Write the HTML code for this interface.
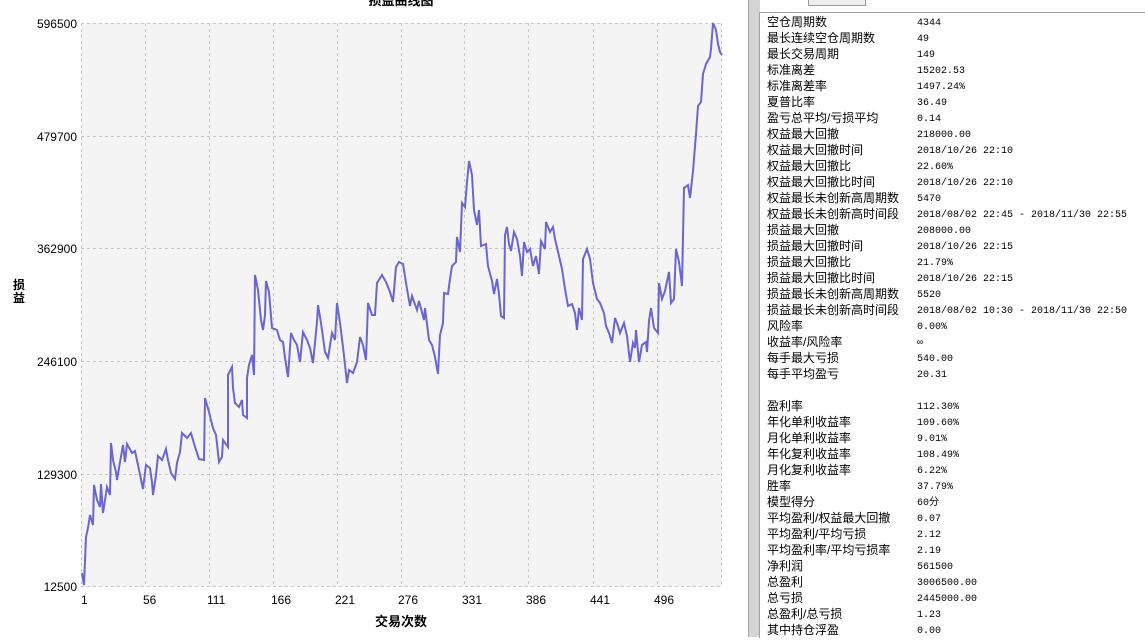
<!DOCTYPE html>
<html><head><meta charset="utf-8"><style>
body{margin:0;width:1145px;height:637px;overflow:hidden;background:#fff;position:relative;font-family:"Liberation Sans","Noto Sans CJK SC",sans-serif;}
.p{position:absolute;left:759px;top:12px;width:386px;height:625px;background:#fff;border-top:1px solid #a0a0a0;border-left:1px solid #a0a0a0;}
.r{position:absolute;font-size:12px;line-height:16px;color:#000;white-space:nowrap;}
</style></head><body>
<div style="position:absolute;left:748px;top:0;width:11px;height:637px;background:#d4d4d4;border-left:1px solid #aaa;"></div>
<div style="position:absolute;left:808px;top:0;width:56px;height:5px;background:#eee;border:1px solid #999;border-top:none;"></div>
<div class="p"></div>
<svg width="748" height="637" style="position:absolute;left:0;top:0" font-family="Liberation Sans, Noto Sans CJK SC, sans-serif">
<rect x="81" y="23" width="641" height="564" fill="#f4f4f4"/>
<g stroke="#c8c8c8" stroke-dasharray="3,3" stroke-width="1">
<line x1="81" y1="23.5" x2="722" y2="23.5"/><line x1="81" y1="136.5" x2="722" y2="136.5"/><line x1="81" y1="248.5" x2="722" y2="248.5"/><line x1="81" y1="361.5" x2="722" y2="361.5"/><line x1="81" y1="474.5" x2="722" y2="474.5"/><line x1="81" y1="586.5" x2="722" y2="586.5"/>
<line x1="81.5" y1="23" x2="81.5" y2="587"/><line x1="145.5" y1="23" x2="145.5" y2="587"/><line x1="209.5" y1="23" x2="209.5" y2="587"/><line x1="273.5" y1="23" x2="273.5" y2="587"/><line x1="337.5" y1="23" x2="337.5" y2="587"/><line x1="401.5" y1="23" x2="401.5" y2="587"/><line x1="464.5" y1="23" x2="464.5" y2="587"/><line x1="528.5" y1="23" x2="528.5" y2="587"/><line x1="593.5" y1="23" x2="593.5" y2="587"/><line x1="657.5" y1="23" x2="657.5" y2="587"/><line x1="721.5" y1="23" x2="721.5" y2="587"/>
</g>
<polyline fill="none" stroke="#6a66d0" stroke-width="2" points="82,573 84,585 86,537 88,528 90,515 93,525 94,485 97,500 100,507 101,484 103,513 107,487 110,495 111,443 113,460 116,472 117,480 119,468 123,445 125,462 127,444 132,453 135,451 138,465 143,489 146,465 150,468 152,482 153,495 156,475 158,456 162,460 166,449 168,460 171,473 175,479 177,463 180,452 182,433 187,438 191,433 195,447 199,459 204,460 205,398 209,412 213,428 216,435 219,462 222,457 223,440 228,447 228,375 232,367 233,388 235,403 239,407 242,400 243,415 247,418 247,378 249,365 252,355 254,375 255,275 258,290 261,320 263,330 265,315 266,281 269,292 272,328 277,330 280,340 283,342 285,358 288,377 291,333 294,340 297,345 300,362 303,332 307,340 310,348 313,363 317,322 318,305 321,323 325,352 328,358 332,333 335,340 337,303 340,323 343,347 347,383 349,370 353,373 357,362 360,337 363,345 366,360 368,303 372,315 375,315 377,283 382,275 386,282 390,292 393,302 396,267 399,262 403,264 407,289 410,306 412,296 417,310 419,301 424,320 425,308 429,340 432,345 435,357 438,374 440,335 443,323 444,293 448,294 450,279 452,266 456,262 457,237 460,252 462,203 465,207 467,182 469,161 472,175 474,210 477,225 479,210 481,246 486,244 488,266 492,281 494,294 497,279 499,294 501,316 504,318 505,235 507,227 509,244 511,251 514,232 517,239 520,256 522,276 524,242 527,252 530,249 533,266 536,256 539,274 541,241 545,249 546,222 550,232 553,227 555,239 559,256 562,269 565,289 568,306 572,304 575,313 577,330 579,308 582,320 583,259 587,249 590,259 593,283 597,299 600,303 604,313 606,326 609,333 612,343 615,318 618,326 620,333 624,323 627,336 630,362 633,343 635,348 636,330 639,362 642,345 646,342 647,352 649,321 651,308 654,328 658,333 659,283 662,299 665,291 669,272 671,303 674,299 676,249 679,262 682,286 684,188 688,185 690,198 693,171 696,134 698,106 701,102 703,74 706,64 710,57 711,49 713,23 716,30 718,44 720,52 722,55"/>
<g font-size="12" fill="#000" text-anchor="end">
<text x="77" y="28">596500</text><text x="77" y="141">479700</text><text x="77" y="253">362900</text><text x="77" y="366">246100</text><text x="77" y="479">129300</text><text x="77" y="591">12500</text>
</g>
<g font-size="12" fill="#000">
<text x="81" y="604">1</text><text x="143" y="604">56</text><text x="207" y="604">111</text><text x="271" y="604">166</text><text x="335" y="604">221</text><text x="398" y="604">276</text><text x="462" y="604">331</text><text x="526" y="604">386</text><text x="590" y="604">441</text><text x="654" y="604">496</text>
</g>
<text x="401" y="626" font-size="13" font-weight="bold" text-anchor="middle">交易次数</text>
<text x="401" y="5" font-size="13" font-weight="bold" text-anchor="middle">损益曲线图</text>
<text x="19" y="289" font-size="12" font-weight="bold" text-anchor="middle">损</text>
<text x="19" y="302" font-size="12" font-weight="bold" text-anchor="middle">益</text>
</svg>
<div class="r" style="left:767px;top:14px">空仓周期数<br>最长连续空仓周期数<br>最长交易周期<br>标准离差<br>标准离差率<br>夏普比率<br>盈亏总平均/亏损平均<br>权益最大回撤<br>权益最大回撤时间<br>权益最大回撤比<br>权益最大回撤比时间<br>权益最长未创新高周期数<br>权益最长未创新高时间段<br>损益最大回撤<br>损益最大回撤时间<br>损益最大回撤比<br>损益最大回撤比时间<br>损益最长未创新高周期数<br>损益最长未创新高时间段<br>风险率<br>收益率/风险率<br>每手最大亏损<br>每手平均盈亏<br>&nbsp;<br>盈利率<br>年化单利收益率<br>月化单利收益率<br>年化复利收益率<br>月化复利收益率<br>胜率<br>模型得分<br>平均盈利/权益最大回撤<br>平均盈利/平均亏损<br>平均盈利率/平均亏损率<br>净利润<br>总盈利<br>总亏损<br>总盈利/总亏损<br>其中持仓浮盈</div>
<div class="r" style="left:917px;top:16px;font-family:'Liberation Mono','Noto Sans CJK SC',monospace;font-size:10px;">4344<br>49<br>149<br>15202.53<br>1497.24%<br>36.49<br>0.14<br>218000.00<br>2018/10/26 22:10<br>22.60%<br>2018/10/26 22:10<br>5470<br>2018/08/02 22:45 - 2018/11/30 22:55<br>208000.00<br>2018/10/26 22:15<br>21.79%<br>2018/10/26 22:15<br>5520<br>2018/08/02 10:30 - 2018/11/30 22:50<br>0.00%<br>∞<br>540.00<br>20.31<br>&nbsp;<br>112.30%<br>109.60%<br>9.01%<br>108.49%<br>6.22%<br>37.79%<br>60分<br>0.07<br>2.12<br>2.19<br>561500<br>3006500.00<br>2445000.00<br>1.23<br>0.00</div>
</body></html>
